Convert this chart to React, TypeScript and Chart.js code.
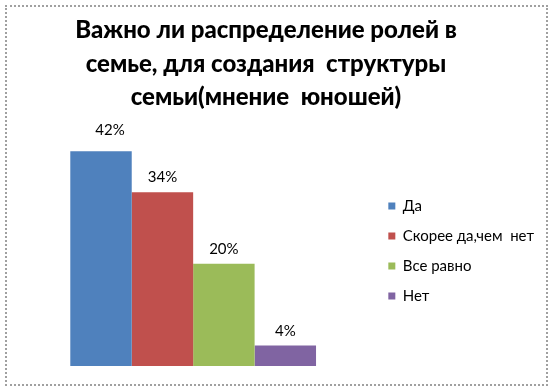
import React, { useEffect, useRef } from "react";
import { Chart, registerables } from "chart.js";

Chart.register(...registerables);

const titleLines = [
  "Важно ли распределение ролей в",
  "семье, для создания  структуры",
  "семьи(мнение  юношей)",
];
const categories = [""];
const seriesNames = ["Да", "Скорее да,чем  нет", "Все равно", "Нет"];
const seriesValues = [42, 34, 20, 4];
const seriesColors = ["#4F81BD", "#C0504D", "#9BBB59", "#8064A2"];

const FONT = "Lato, 'Open Sans', sans-serif";

const titlePlugin = {
  id: "customTitle",
  afterDraw(chart: any) {
    const ctx = chart.ctx;
    ctx.save();
    ctx.font = `900 24px ${FONT}`;
    ctx.fillStyle = "#000";
    ctx.textAlign = "center";
    ctx.textBaseline = "alphabetic";
    const baselines = [38, 71.5, 105];
    titleLines.forEach((line, i) => ctx.fillText(line, 266, baselines[i]));
    ctx.restore();
  },
};

const labelNudges = [
  { dx: 9, dy: -6 },
  { dx: 0, dy: 0 },
  { dx: 0, dy: 0 },
  { dx: 0, dy: 0 },
];

const valueLabelPlugin = {
  id: "valueLabels",
  afterDatasetsDraw(chart: any) {
    const ctx = chart.ctx;
    ctx.save();
    ctx.font = `15px ${FONT}`;
    ctx.fillStyle = "#000";
    ctx.textAlign = "center";
    ctx.textBaseline = "alphabetic";
    chart.data.datasets.forEach((ds: any, i: number) => {
      const meta = chart.getDatasetMeta(i);
      meta.data.forEach((bar: any, j: number) => {
        const n = labelNudges[i] || { dx: 0, dy: 0 };
        ctx.fillText(`${ds.data[j]}%`, bar.x + n.dx, bar.y - 10 + n.dy);
      });
    });
    ctx.restore();
  },
};

export default function App() {
  const ref = useRef<HTMLCanvasElement | null>(null);

  useEffect(() => {
    if (!ref.current) return;
    const chart = new Chart(ref.current, {
      type: "bar",
      data: {
        labels: categories,
        datasets: seriesNames.map((name, i) => ({
          label: name,
          data: [seriesValues[i]],
          backgroundColor: seriesColors[i],
          borderWidth: 0,
          barPercentage: 1,
          categoryPercentage: 0.682,
        })),
      },
      options: {
        animation: false,
        responsive: false,
        layout: { padding: { top: 136, bottom: 25, left: 13, right: 10 } },
        scales: {
          x: { display: false, grid: { display: false } },
          y: { display: false, min: 0, max: 45, grid: { display: false } },
        },
        plugins: {
          title: { display: false },
          tooltip: { enabled: false },
          legend: {
            position: "right",
            align: "center",
            labels: {
              boxWidth: 7,
              boxHeight: 7,
              padding: 15,
              color: "#000",
              font: { family: FONT, size: 15 },
            },
          },
        },
      },
      plugins: [titlePlugin, valueLabelPlugin],
    });
    return () => chart.destroy();
  }, []);

  return (
    <div style={{ position: "absolute", left: 0, top: 0, width: 554, height: 391, background: "#fff" }}>
      <div
        style={{
          position: "absolute",
          left: 5,
          top: 5,
          width: 543,
          height: 381,
          boxSizing: "border-box",
          border: "2px dotted #a0a0a0",
        }}
      />
      <canvas ref={ref} width={554} height={391} style={{ position: "absolute", left: 0, top: 0 }} />
    </div>
  );
}
